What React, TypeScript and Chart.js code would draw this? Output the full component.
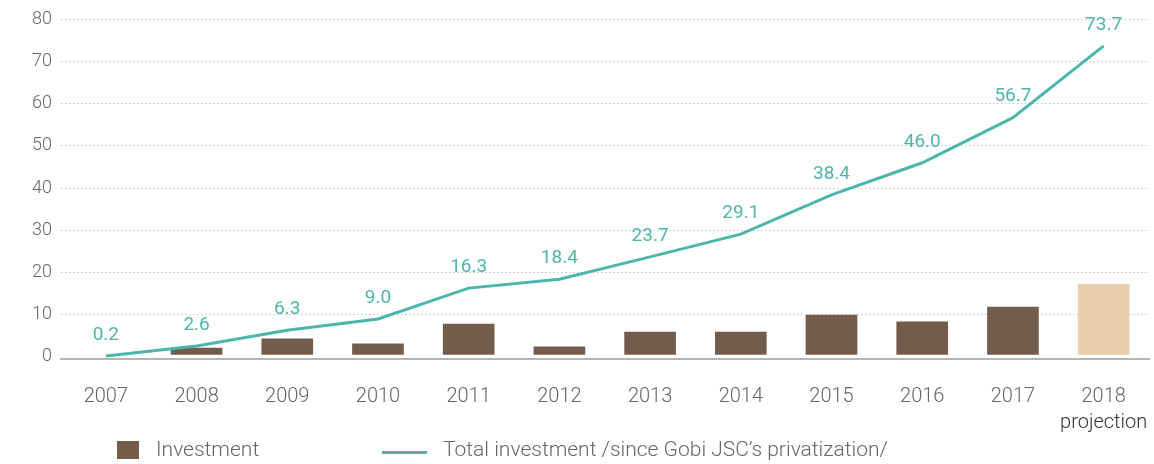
import React, { useEffect, useRef } from "react";
import { Chart, registerables } from "chart.js";

Chart.register(...registerables);

// ---- data ----
const years = ["2007", "2008", "2009", "2010", "2011", "2012", "2013", "2014", "2015", "2016", "2017", "2018"];
const yearNotes = ["", "", "", "", "", "", "", "", "", "", "", "projection"];
const investment = [null, 2.1, 4.3, 3.1, 7.8, 2.4, 5.9, 5.9, 9.9, 8.3, 11.8, 17.2];
const totalInvestment = [0.2, 2.6, 6.3, 9.0, 16.3, 18.4, 23.7, 29.1, 38.4, 46.0, 56.7, 73.7];
const yTicks = [0, 10, 20, 30, 40, 50, 60, 70, 80];
const barBase = 0.6;
const yMin = -0.5;
const yMax = 80;

const legendInvestment = "Investment";
const legendTotal = "Total investment /since Gobi JSC’s privatization/";

// ---- styles ----
const BROWN = "#745C4C";
const BEIGE = "#E8CFAE";
const TEAL = "#4DB6AC";
const FONT = "Roboto, 'Noto Sans', sans-serif";
const barColors = years.map((_, i) => (i === years.length - 1 ? BEIGE : BROWN));

const valueLabelPlugin = {
  id: "valueLabels",
  afterDatasetsDraw(chart: any) {
    const meta = chart.getDatasetMeta(1);
    const ctx = chart.ctx;
    ctx.save();
    ctx.font = `400 19px ${FONT}`;
    ctx.fillStyle = TEAL;
    ctx.textAlign = "center";
    ctx.textBaseline = "middle";
    meta.data.forEach((pt: any, i: number) => {
      ctx.fillText(totalInvestment[i].toFixed(1), pt.x, pt.y - 21);
    });
    ctx.restore();
  },
};

const notePlugin = {
  id: "yearNotes",
  afterDraw(chart: any) {
    const xs = chart.scales.x;
    const ctx = chart.ctx;
    ctx.save();
    ctx.font = `300 20px ${FONT}`;
    ctx.fillStyle = "#333";
    ctx.textAlign = "center";
    ctx.textBaseline = "middle";
    yearNotes.forEach((note, i) => {
      if (note) ctx.fillText(note, xs.getPixelForValue(i), 423);
    });
    ctx.restore();
  },
};

export default function App() {
  const canvasRef = useRef<HTMLCanvasElement | null>(null);

  useEffect(() => {
    if (!canvasRef.current) return;
    const chart = new Chart(canvasRef.current, {
      type: "bar",
      data: {
        labels: years,
        datasets: [
          {
            type: "bar",
            label: legendInvestment,
            data: investment as any,
            backgroundColor: barColors,
            base: barBase,
            barThickness: 51,
            order: 2,
          } as any,
          {
            type: "line",
            label: legendTotal,
            data: totalInvestment,
            borderColor: TEAL,
            borderWidth: 3,
            pointRadius: 0,
            tension: 0,
            fill: false,
            order: 1,
          } as any,
        ],
      },
      options: {
        animation: false,
        responsive: false,
        maintainAspectRatio: false,
        layout: { padding: { top: 18, right: 5, left: 0, bottom: 0 } },
        plugins: {
          legend: { display: false },
          tooltip: { enabled: false },
        },
        scales: {
          x: {
            offset: true,
            grid: { display: false, drawTicks: false },
            border: { display: true, color: "#b5b5b5", width: 2 },
            ticks: {
              color: "#666",
              font: { family: FONT, size: 20, weight: "300" as any },
              padding: 26,
              autoSkip: false,
              maxRotation: 0,
            },
            afterFit(scale: any) {
              scale.height = 105;
            },
          },
          y: {
            min: yMin,
            max: yMax,
            afterBuildTicks(scale: any) {
              scale.ticks = yTicks.map((v) => ({ value: v }));
            },
            grid: {
              drawTicks: false,
              color: (ctx: any) => (ctx.tick && ctx.tick.value === 0 ? "rgba(0,0,0,0)" : "#c4c4c4"),
              lineWidth: 1,
            },
            border: { display: false, dash: [1.5, 2.5] },
            ticks: {
              color: "#666",
              font: { family: FONT, size: 18, weight: "300" as any },
              padding: 8.5,
            },
            afterFit(scale: any) {
              scale.width = 60.5;
            },
          },
        },
      },
      plugins: [valueLabelPlugin, notePlugin],
    });
    return () => chart.destroy();
  }, []);

  const textStyle: React.CSSProperties = {
    position: "absolute",
    top: 437,
    fontFamily: FONT,
    fontWeight: 300,
    fontSize: 21,
    lineHeight: "24px",
    color: "#666",
    whiteSpace: "nowrap",
  };

  return (
    <div style={{ position: "absolute", left: 0, top: 0, width: 1154, height: 464, background: "#fff", overflow: "hidden" }}>
      <canvas ref={canvasRef} width={1154} height={464} style={{ position: "absolute", left: 0, top: 0 }} />
      <div style={{ position: "absolute", left: 117, top: 441, width: 22, height: 18, background: BROWN }} />
      <div style={{ ...textStyle, left: 156 }}>{legendInvestment}</div>
      <div style={{ position: "absolute", left: 382, top: 451, width: 45, height: 3, background: TEAL }} />
      <div style={{ ...textStyle, left: 443 }}>{legendTotal}</div>
    </div>
  );
}
